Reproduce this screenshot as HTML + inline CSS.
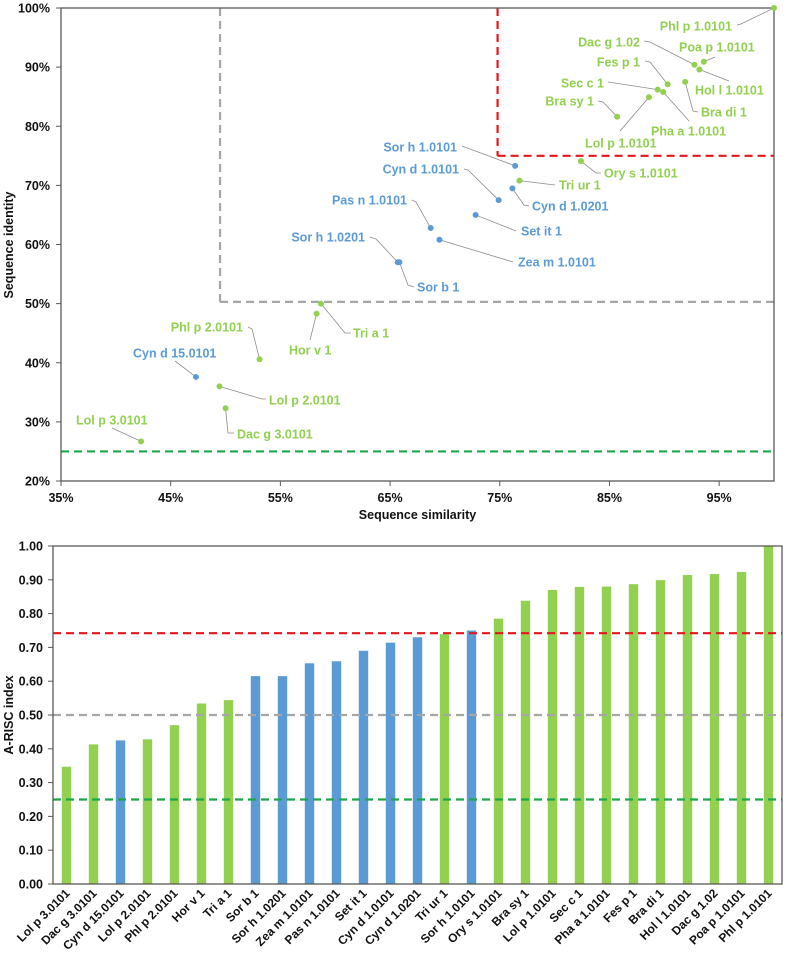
<!DOCTYPE html>
<html><head><meta charset="utf-8"><style>
body{margin:0;background:#fff}
svg{display:block;font-family:"Liberation Sans",Arial,sans-serif;font-weight:bold}
</style></head><body>
<svg id="chart" width="791" height="960" viewBox="0 0 791 960" xmlns="http://www.w3.org/2000/svg"></svg>
<script>
// ---- Scatter data ----
const scNames = ["Lol p 3.0101","Cyn d 15.0101","Lol p 2.0101","Dac g 3.0101","Phl p 2.0101","Hor v 1","Tri a 1","Sor h 1.0201","Sor b 1","Pas n 1.0101","Zea m 1.0101","Set it 1","Cyn d 1.0101","Cyn d 1.0201","Sor h 1.0101","Tri ur 1","Ory s 1.0101","Bra sy 1","Lol p 1.0101","Sec c 1","Pha a 1.0101","Fes p 1","Bra di 1","Dac g 1.02","Hol l 1.0101","Poa p 1.0101","Phl p 1.0101"];
const scSimilarity = [42.3,47.3,49.45,50.0,53.1,58.3,58.7,65.7,65.85,68.7,69.5,72.8,74.9,76.15,76.4,76.8,82.4,85.7,88.6,89.4,89.9,90.3,91.9,92.75,93.2,93.6,100];
const scIdentity = [26.7,37.6,36.0,32.3,40.6,48.3,50.0,57.0,57.0,62.8,60.8,65.0,67.5,69.5,73.3,70.8,74.1,81.6,84.9,86.2,85.8,87.1,87.5,90.4,89.6,90.9,100];
const scGroup = ["g","b","g","g","g","g","g","b","b","b","b","b","b","b","b","g","g","g","g","g","g","g","g","g","g","g","g"];
const xTicks = [35,45,55,65,75,85,95];
const yTicks = [20,30,40,50,60,70,80,90,100];
// ---- Bar data ----
const barNames = ["Lol p 3.0101","Dac g 3.0101","Cyn d 15.0101","Lol p 2.0101","Phl p 2.0101","Hor v 1","Tri a 1","Sor b 1","Sor h 1.0201","Zea m 1.0101","Pas n 1.0101","Set it 1","Cyn d 1.0101","Cyn d 1.0201","Tri ur 1","Sor h 1.0101","Ory s 1.0101","Bra sy 1","Lol p 1.0101","Sec c 1","Pha a 1.0101","Fes p 1","Bra di 1","Hol l 1.0101","Dac g 1.02","Poa p 1.0101","Phl p 1.0101"];
const barValues = [0.347,0.413,0.425,0.428,0.47,0.534,0.544,0.615,0.615,0.653,0.659,0.69,0.714,0.73,0.739,0.75,0.785,0.838,0.87,0.879,0.88,0.887,0.899,0.914,0.917,0.923,1.0];
const barGroup = ["g","g","b","g","g","g","g","b","b","b","b","b","b","b","g","b","g","g","g","g","g","g","g","g","g","g","g"];
const barTicks = [0,0.1,0.2,0.3,0.4,0.5,0.6,0.7,0.8,0.9,1.0];

const GREEN="#92D050", BLUE="#5B9BD5", AX="#595959";
const svg=document.getElementById('chart');
const NS="http://www.w3.org/2000/svg";
function mk(tag,attrs,parent){const e=document.createElementNS(NS,tag);for(const k in attrs)e.setAttribute(k,attrs[k]);(parent||svg).appendChild(e);return e;}

// ---- Scatter axes ----
const P={l:61,r:774,t:8,b:481};
const sx=v=>P.l+(v-35)/65*(P.r-P.l);
const sy=v=>P.b-(v-20)/80*(P.b-P.t);
const g1=mk('g',{});


// threshold lines
function dash(x1,y1,x2,y2,c,name,parent){const l=mk('line',{x1,y1,x2,y2,stroke:c,'stroke-width':2.2,'stroke-dasharray':'8,5'},parent);return l;}
dash(sx(49.5),P.t,sx(49.5),sy(50.3),'#A6A6A6','grey-threshold-vertical',g1);
dash(sx(49.5),sy(50.3),P.r,sy(50.3),'#A6A6A6','grey-threshold-horizontal',g1);
dash(sx(74.8),P.t,sx(74.8),sy(75),'#E8141B','red-threshold-vertical',g1);
dash(sx(74.8),sy(75),P.r,sy(75),'#E8141B','red-threshold-horizontal',g1);
dash(P.l,sy(25),P.r,sy(25),'#1BA84A','green-threshold',g1);
const box1=mk('rect',{x:P.l,y:P.t,width:P.r-P.l,height:P.b-P.t,fill:'none',stroke:AX,'stroke-width':1.3},g1);


yTicks.forEach(v=>{
  mk('line',{x1:P.l-5,y1:sy(v),x2:P.l,y2:sy(v),stroke:AX},g1);
  const t=mk('text',{x:50,y:sy(v)+4.5,'text-anchor':'end','font-size':12.5,fill:'#111'},g1);t.textContent=v+'%';
  
  
});
xTicks.forEach(v=>{
  mk('line',{x1:sx(v),y1:P.b,x2:sx(v),y2:P.b+5,stroke:AX},g1);
  const t=mk('text',{x:sx(v),y:P.b+21,'text-anchor':'middle','font-size':12.5,fill:'#111'},g1);t.textContent=v+'%';
  
  
});
let tt=mk('text',{x:(P.l+P.r)/2,y:519,'text-anchor':'middle','font-size':12.5,fill:'#111'},g1);tt.textContent='Sequence similarity';


tt=mk('text',{x:0,y:0,'text-anchor':'middle','font-size':12.5,fill:'#111',transform:'translate(13,245) rotate(-90)'},g1);tt.textContent='Sequence identity';



// label layout (styling only): [textX, textY(center), anchor, leader points relative pixel]
const lab={
"Lol p 3.0101":[76,420,'start',[[112,428]]],
"Cyn d 15.0101":[133,353,'start',[[175,361]]],
"Lol p 2.0101":[269,400,'start',[[262,399],[266,399]]],
"Dac g 3.0101":[237,434,'start',[[228,433],[234,433]]],
"Phl p 2.0101":[243,327,'end',[[252,329],[248,327]]],
"Hor v 1":[289,350,'start',[[310,340]]],
"Tri a 1":[353,333,'start',[[345,333],[351,333]]],
"Sor h 1.0201":[365,237,'end',[[376,239],[370,237]]],
"Sor b 1":[417,287,'start',[[408,285],[414,287]]],
"Pas n 1.0101":[407,200,'end',[[416,202],[412,200]]],
"Zea m 1.0101":[518,262,'start',[[513,262]]],
"Set it 1":[521,231,'start',[[516,231]]],
"Cyn d 1.0101":[459,169,'end',[[468,170],[464,169]]],
"Cyn d 1.0201":[532,206,'start',[[524,205],[529,206]]],
"Sor h 1.0101":[457,147,'end',[[462,146]]],
"Tri ur 1":[559,185,'start',[[555,185]]],
"Ory s 1.0101":[604,173,'start',[[596,173],[601,173]]],
"Bra sy 1":[594,101,'end',[[603,102],[598,101]]],
"Lol p 1.0101":[585,143,'start',[[620,131]]],
"Sec c 1":[604,83,'end',[[608,82]]],
"Pha a 1.0101":[651,131,'start',[[689,121]]],
"Fes p 1":[640,62,'end',[[650,62],[645,61]]],
"Bra di 1":[701,112,'start',[[693,111],[698,112]]],
"Dac g 1.02":[640,42,'end',[[650,42],[644,41]]],
"Hol l 1.0101":[695,90,'start',[[729,81]]],
"Poa p 1.0101":[679,47,'start',[[715,57]]],
"Phl p 1.0101":[732,26,'end',[[741,24],[737,25]]]
};
scNames.forEach((n,i)=>{
  const px=sx(scSimilarity[i]), py=sy(scIdentity[i]);
  const c=scGroup[i]==='g'?GREEN:BLUE;
  const L=lab[n];
  const pts=[[px,py]].concat(L[3]).map(p=>p.join(',')).join(' ');
  const pl=mk('polyline',{points:pts,fill:'none',stroke:'#8C8C8C','stroke-width':0.8},g1);
  
  
  const d=mk('circle',{cx:px,cy:py,r:3,fill:c},g1);
  
  
  const t=mk('text',{x:L[0],y:L[1]+4.5,'text-anchor':L[2],'font-size':12.5,fill:c},g1);t.textContent=n;
  
  
});

// ---- Bar chart ----
const B={l:53,r:782,t:546,b:884};
const by=v=>B.b-v*(B.b-B.t);
const band=(B.r-B.l)/barNames.length;
const bx=i=>B.l+band*(i+0.5);
const g2=mk('g',{});


barNames.forEach((n,i)=>{
  const r=mk('rect',{x:bx(i)-4.7,y:by(barValues[i]),width:9.4,height:B.b-by(barValues[i]),fill:barGroup[i]==='g'?GREEN:BLUE},g2);
  
  
  const t=mk('text',{x:0,y:0,'text-anchor':'end','font-size':12,fill:'#111',transform:`translate(${bx(i)+4},${B.b+10}) rotate(-45)`},g2);t.textContent=n;
  
  
});
dash(B.l,by(0.742),B.r,by(0.742),'#E8141B','red-threshold-line',g2);
dash(B.l,by(0.5),B.r,by(0.5),'#A6A6A6','grey-threshold-line',g2);
dash(B.l,by(0.25),B.r,by(0.25),'#1BA84A','green-threshold-line',g2);
const box2=mk('rect',{x:B.l,y:B.t,width:B.r-B.l,height:B.b-B.t,fill:'none',stroke:AX,'stroke-width':1.3},g2);


barTicks.forEach(v=>{
  mk('line',{x1:B.l-5,y1:by(v),x2:B.l,y2:by(v),stroke:AX},g2);
  const t=mk('text',{x:43,y:by(v)+4.5,'text-anchor':'end','font-size':12.5,fill:'#111'},g2);t.textContent=v.toFixed(2);
  
  
});
tt=mk('text',{x:0,y:0,'text-anchor':'middle','font-size':12.5,fill:'#111',transform:'translate(13,715) rotate(-90)'},g2);tt.textContent='A-RISC index';


</script>
</body></html>
